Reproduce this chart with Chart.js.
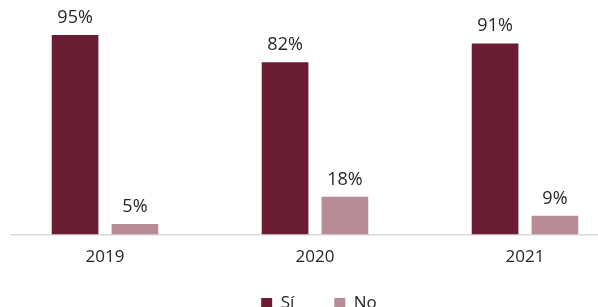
<!DOCTYPE html>
<html>
<head>
<meta charset="utf-8">
<script src="https://cdn.jsdelivr.net/npm/chart.js@4/dist/chart.umd.min.js"></script>
<style>
  html, body { margin: 0; padding: 0; background: #ffffff; overflow: hidden; }
  #wrap { width: 598px; height: 307px; overflow: hidden; position: relative; }
  canvas { display: block; }
</style>
</head>
<body>
<div id="wrap"><canvas id="c" width="630" height="322"></canvas></div>
<script>
const categories = ['2019', '2020', '2021'];
const seriesNames = ['Sí', 'No'];
const siValues = [95, 82, 91];
const noValues = [5, 18, 9];
const colors = ['#6B1D33', '#B88B97'];

const AXIS_SHRINK = 24;

const valueLabels = {
  id: 'valueLabels',
  afterLayout(chart) {
    // let the tick labels keep their full drawing area (no clipping)
    chart.scales.x.bottom += AXIS_SHRINK;
    // axis base line starts slightly inside the left edge
    chart.scales.x.left += 12;
    if (chart.legend) { chart.legend.left += 4; chart.legend.right += 4; }
  },
  afterDatasetsDraw(chart) {
    const ctx = chart.ctx;
    ctx.save();
    ctx.font = '18px "Open Sans"';
    ctx.fillStyle = '#262626';
    ctx.textAlign = 'center';
    ctx.textBaseline = 'alphabetic';
    chart.data.datasets.forEach((ds, i) => {
      const meta = chart.getDatasetMeta(i);
      meta.data.forEach((el, j) => {
        ctx.fillText(ds.data[j] + '%', el.x, el.y - 12);
      });
    });
    ctx.restore();
  }
};

new Chart(document.getElementById('c'), {
  type: 'bar',
  data: {
    labels: categories,
    datasets: [
      { label: seriesNames[0], data: siValues, backgroundColor: colors[0], borderWidth: 0 },
      { label: seriesNames[1], data: noValues, backgroundColor: colors[1], borderWidth: 0 }
    ]
  },
  options: {
    responsive: false,
    animation: false,
    devicePixelRatio: 1,
    categoryPercentage: 0.57,
    barPercentage: 0.78,
    layout: { padding: { top: 24.5, left: 0, right: 0, bottom: 0 } },
    scales: {
      x: {
        grid: { display: false, drawTicks: false },
        border: { display: true, color: '#D9D9D9', width: 1.5 },
        ticks: { color: '#262626', font: { family: 'Open Sans', size: 17 }, padding: 12 },
        afterFit(scale) { scale.height -= AXIS_SHRINK; }
      },
      y: {
        display: false,
        min: 0,
        max: 100
      }
    },
    plugins: {
      legend: {
        position: 'bottom',
        labels: {
          boxWidth: 11,
          boxHeight: 11,
          padding: 40,
          color: '#262626',
          font: { family: 'Open Sans', size: 17 }
        }
      },
      tooltip: { enabled: false }
    }
  },
  plugins: [valueLabels]
});
</script>
</body>
</html>
